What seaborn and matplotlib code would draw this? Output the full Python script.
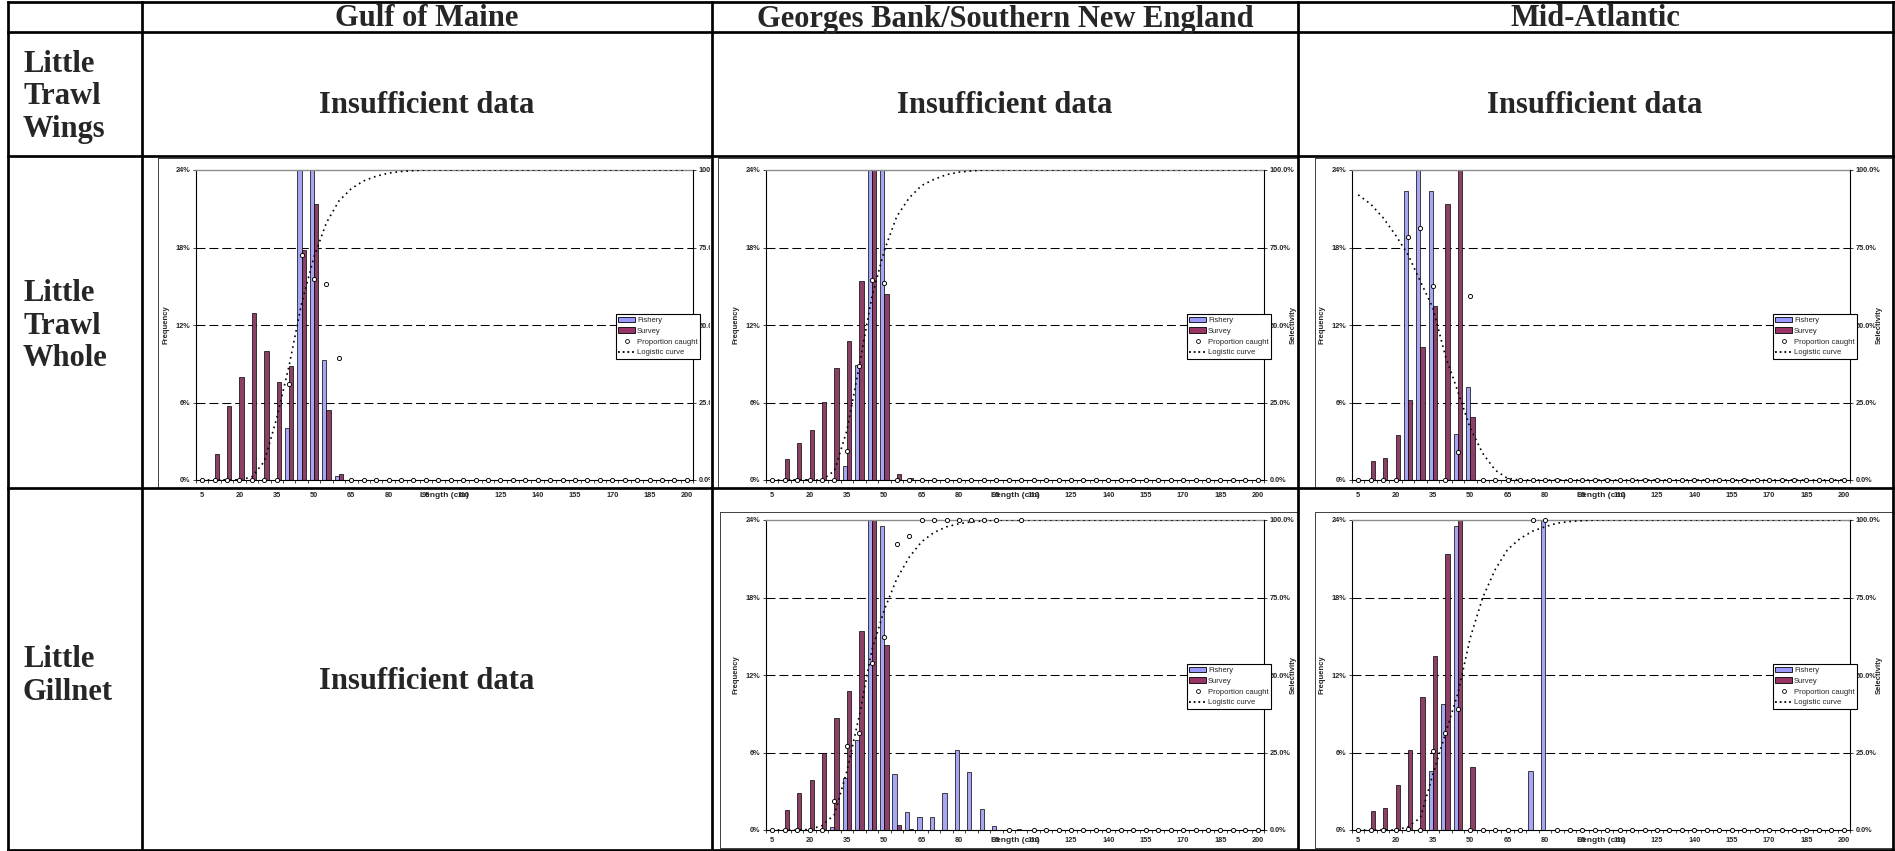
import numpy as np
import pandas as pd
import matplotlib
matplotlib.use("Agg")
import matplotlib.pyplot as plt
import seaborn as sns
from matplotlib.patches import Patch, Rectangle
from matplotlib.lines import Line2D

# Estilo geral
sns.set_style("ticks")
plt.rcParams['font.family'] = ['Liberation Sans', 'DejaVu Sans']
SERIF = ['Liberation Serif', 'DejaVu Serif']

W, H = 1895, 851

# Categorias de comprimento (cm) e rótulos do eixo x
lengths = [str(v) for v in range(5, 205, 5)]
tick_labels = lengths[::3]

col_titles = ["Gulf of Maine", "Georges Bank/Southern New England", "Mid-Atlantic"]
row_titles = ["Little\nTrawl\nWings", "Little\nTrawl\nWhole", "Little\nGillnet"]
no_data = "Insufficient data"

# Gulf of Maine - trawl whole (% frequência, % seletividade)
gom_whole_fishery = [0, 0, 0.1, 0.1, 0, 0, 0, 4.0, 43.0, 43.2, 9.3, 0.3] + [0] * 28
gom_whole_survey = [0, 2.0, 5.7, 8.0, 12.9, 10.0, 7.6, 8.8, 17.8, 21.4, 5.4, 0.5] + [0] * 28
gom_whole_prop = [0, 0, 0, 0, 0, 0, 0, 31.0, 72.7, 64.8, 63.3, 39.2] + [0] * 28
gom_whole_logit = [0, 0, 0, 0, 1, 6, 20, 37, 57, 72, 83, 90, 94, 96.5, 98, 99, 99.5, 99.8] + [100] * 22

# Georges Bank/SNE - trawl whole
gbs_whole_fishery = [0, 0, 0.1, 0.1, 0, 0, 1.1, 8.9, 45.0, 44.7, 0, 0] + [0] * 28
gbs_whole_survey = [0, 1.6, 2.9, 3.9, 6.05, 8.7, 10.8, 15.4, 35.7, 14.4, 0.45, 0.15] + [0] * 28
gbs_whole_prop = [0, 0, 0, 0, 0, 0, 9.2, 36.9, 64.4, 63.6, 0, 0] + [0] * 28
gbs_whole_logit = [0, 0, 0, 0, 0, 3, 16, 37, 59, 74, 85, 91, 95, 97, 98.5, 99.3, 99.7] + [100] * 23

# Mid-Atlantic - trawl whole
mab_whole_fishery = [0, 0, 0, 0, 22.4, 44.4, 22.4, 0, 3.6, 7.2, 0, 0] + [0] * 28
mab_whole_survey = [0, 1.47, 1.7, 3.5, 6.2, 10.3, 13.5, 21.4, 37.0, 4.9, 0, 0] + [0] * 28
mab_whole_prop = [0, 0, 0, 0, 78.4, 81.4, 62.5, 0, 8.9, 59.3, 0, 0] + [0] * 28
mab_whole_logit = [92, 89, 84.6, 79, 72.7, 64, 55.5, 40, 28.6, 16.7, 8.6, 3.2, 0.5] + [0] * 27

# Georges Bank/SNE - gillnet
gbs_gill_fishery = [0, 0, 0, 0, 0, 0.26, 4.0, 7.0, 41.9, 23.5, 4.35, 1.4, 1.0, 1.0, 2.9, 6.2,
                    4.5, 1.6, 0.3, 0, 0.1] + [0] * 19
gbs_gill_survey = [0, 1.58, 2.85, 3.84, 6.0, 8.66, 10.8, 15.4, 36.1, 14.3, 0.39, 0.1] + [0] * 28
gbs_gill_prop = [0, 0, 0, 0, 0, 9.3, 27.0, 31.4, 53.8, 62.2, 92.1, 94.8, 100, 100, 100, 100,
                 100, 100, 100, 0, 100] + [0] * 19
gbs_gill_logit = [0, 0, 0, 0.2, 1.4, 5, 19, 37, 58, 71, 81, 88, 93, 96, 97.8, 98.8, 99.4, 99.7] + [100] * 22

# Mid-Atlantic - gillnet
mab_gill_fishery = [0, 0, 0, 0, 0, 0, 4.56, 9.75, 23.5, 0, 0, 0, 0, 0, 4.56, 57.6] + [0] * 24
mab_gill_survey = [0, 1.45, 1.68, 3.5, 6.17, 10.3, 13.5, 21.4, 37.1, 4.9] + [0] * 30
mab_gill_prop = [0, 0, 0, 0, 0.3, 0, 25.4, 31.4, 38.9, 0, 0, 0, 0, 0, 100, 100] + [0] * 24
mab_gill_logit = [0, 0, 0, 0, 1, 4, 18, 31, 44, 62, 75, 84, 90.5, 94, 96.4, 97.8, 99, 99.5, 99.8] + [100] * 21

colors = {"Fishery": "#9999FF", "Survey": "#993366"}


def fig_rect(x0, y0, x1, y1):
    return [x0 / W, 1 - y1 / H, (x1 - x0) / W, (y1 - y0) / H]


def fig_line(fig, xs, ys, lw, color, z):
    fig.add_artist(Line2D([x / W for x in xs], [1 - y / H for y in ys], transform=fig.transFigure,
                          color=color, lw=lw, zorder=z, solid_capstyle="projecting"))


def white_box(fig, x0, y0, x1, y1):
    fig.add_artist(Rectangle((x0 / W, 1 - y1 / H), (x1 - x0) / W, (y1 - y0) / H,
                             transform=fig.transFigure, facecolor="white", edgecolor="none", zorder=5))


# Gráfico de barras + curva logística
def draw_chart(fig, box, fishery, survey, prop, logit, xpad):
    ax = fig.add_axes(fig_rect(*box))
    df = pd.DataFrame({
        "Length": lengths * 2,
        "Series": ["Fishery"] * 40 + ["Survey"] * 40,
        "Pct": fishery + survey,
    })
    sns.barplot(data=df, x="Length", y="Pct", hue="Series", order=lengths,
                hue_order=["Fishery", "Survey"], palette=colors, width=0.68,
                edgecolor="black", linewidth=0.5, errorbar=None, legend=False, ax=ax)
    ax.set_xlim(-0.5, 39.5)
    ax.set_ylim(0, 24)
    ax.set_xlabel("")
    ax.set_ylabel("")
    for v in [6, 12, 18]:
        ax.axhline(v, color="black", lw=0.75, ls=(0, (8.6, 3.8)), zorder=0.5)

    ax.set_xticks(range(0, 40, 3), tick_labels, fontsize=5.3, fontweight="bold")
    ax.set_xticks(np.arange(-0.5, 40, 1), minor=True)
    ax.tick_params(axis="x", which="major", length=0, pad=xpad)
    ax.tick_params(axis="x", which="minor", length=2.2, width=0.6, direction="out")
    ax.set_yticks([0, 6, 12, 18, 24], ["0%", "6%", "12%", "18%", "24%"], fontsize=5.3, fontweight="bold")
    ax.tick_params(axis="y", length=2.2, width=0.6, pad=1.6)
    ax.spines["top"].set_color("#8c8c8c")
    ax.spines["top"].set_linewidth(1.0)
    ax.spines["right"].set_visible(False)
    for s in ["left", "bottom"]:
        ax.spines[s].set_linewidth(0.8)
        ax.spines[s].set_color("black")

    ax2 = ax.twinx()
    x = np.arange(40)
    ax2.plot(x, logit, color="black", lw=1.2, ls=(0, (1, 2.3)))
    ax2.plot(x, prop, ls="none", marker="o", ms=3.0, mfc="white", mec="black", mew=0.65, clip_on=False)
    ax2.set_ylim(0, 100)
    ax2.set_yticks([0, 25, 50, 75, 100], ["0.0%", "25.0%", "50.0%", "75.0%", "100.0%"],
                   fontsize=5.3, fontweight="bold")
    ax2.tick_params(axis="y", length=2.2, width=0.6, pad=1.6)
    for s in ["top", "left", "bottom"]:
        ax2.spines[s].set_visible(False)
    ax2.spines["right"].set_linewidth(0.8)
    ax2.spines["right"].set_color("black")

    label_y = -(xpad * 1.389 + 3.5) / 310
    ax.text(0.5, label_y, "Length (cm)", transform=ax.transAxes, ha="center", va="center",
            fontsize=6, fontweight="bold")
    ax.text(-30 / 498, 0.5, "Frequency", transform=ax.transAxes, rotation=90, ha="center",
            va="center", fontsize=5.5, fontweight="bold")
    ax2.text(1 + 29 / 498, 0.5, "Selectivity", transform=ax2.transAxes, rotation=90, ha="center",
             va="center", fontsize=5.5, fontweight="bold")

    handles = [
        Patch(facecolor=colors["Fishery"], edgecolor="black", linewidth=0.6),
        Patch(facecolor=colors["Survey"], edgecolor="black", linewidth=0.6),
        Line2D([], [], ls="none", marker="o", ms=2.8, mfc="white", mec="black", mew=0.6),
        Line2D([], [], color="black", lw=1.3, ls=(0, (1, 1.6))),
    ]
    leg = ax2.legend(handles, ["Fishery", "Survey", "Proportion caught", "Logistic curve"],
                     loc="center right", bbox_to_anchor=(1.014, 0.463), fontsize=5.5,
                     frameon=True, fancybox=False, framealpha=1, edgecolor="black",
                     borderpad=0.3, labelspacing=0.45, handlelength=2.3, handletextpad=0.2,
                     borderaxespad=0)
    leg.get_frame().set_linewidth(0.8)
    return ax


fig = plt.figure(figsize=(W / 100, H / 100), dpi=100)

# Linha 2 (Trawl Whole) e linha 3 (Gillnet)
draw_chart(fig, (196, 170, 693, 480), gom_whole_fishery, gom_whole_survey, gom_whole_prop, gom_whole_logit, 8.8)
draw_chart(fig, (766, 170, 1264, 480), gbs_whole_fishery, gbs_whole_survey, gbs_whole_prop, gbs_whole_logit, 8.8)
draw_chart(fig, (1352, 170, 1850, 480), mab_whole_fishery, mab_whole_survey, mab_whole_prop, mab_whole_logit, 8.8)
draw_chart(fig, (766, 520, 1264, 830), gbs_gill_fishery, gbs_gill_survey, gbs_gill_prop, gbs_gill_logit, 5.2)
draw_chart(fig, (1352, 520, 1850, 830), mab_gill_fishery, mab_gill_survey, mab_gill_prop, mab_gill_logit, 5.2)

ROW_LINES = [2, 31.5, 156, 488, 849.5]
COL_LINES = [8, 142, 712, 1298, 1892.5]

# Recortes das imagens dos gráficos nas células
white_box(fig, 710, 157, 731, 487)
white_box(fig, 1298, 157, 1312, 488)
white_box(fig, 1298, 488, 1312, 851)

# Molduras dos gráficos
frame_c = "#404040"
fig_line(fig, [158, 710], [158, 158], 0.7, frame_c, 6)
fig_line(fig, [158, 158], [158, 488], 0.7, frame_c, 6)
fig_line(fig, [718, 1298], [158, 158], 0.7, frame_c, 6)
fig_line(fig, [718, 718], [158, 488], 0.7, frame_c, 6)
fig_line(fig, [1315, 1893], [158, 158], 0.7, frame_c, 6)
fig_line(fig, [1315, 1315], [158, 488], 0.7, frame_c, 6)
fig_line(fig, [720, 1298], [512, 512], 0.7, frame_c, 6)
fig_line(fig, [720, 720], [512, 848], 0.7, frame_c, 6)
fig_line(fig, [720, 1298], [848, 848], 0.7, frame_c, 6)
fig_line(fig, [1315, 1893], [512, 512], 0.7, frame_c, 6)
fig_line(fig, [1315, 1315], [512, 848], 0.7, frame_c, 6)
fig_line(fig, [1315, 1893], [848, 848], 0.7, frame_c, 6)

# Linhas da tabela
for y in ROW_LINES:
    fig_line(fig, [COL_LINES[0], COL_LINES[-1]], [y, y], 1.95, "black", 7)
for xv in COL_LINES:
    fig_line(fig, [xv, xv], [ROW_LINES[0], ROW_LINES[-1]], 1.95, "black", 7)

# Textos da tabela
col_x = [427, 1005, 1595]
for cx, t in zip(col_x, col_titles):
    fig.text(cx / W, 1 - 26.5 / H, t, ha="center", va="baseline", fontsize=22,
             fontweight="bold", family=SERIF, zorder=8)
for cy, t in zip([97, 326, 676], row_titles):
    fig.text(23 / W, 1 - cy / H, t, ha="left", va="center", fontsize=22, fontweight="bold",
             family=SERIF, linespacing=1.15, zorder=8)
for cx in col_x:
    fig.text(cx / W, 1 - 113 / H, no_data, ha="center", va="baseline", fontsize=22,
             fontweight="bold", family=SERIF, zorder=8)
fig.text(col_x[0] / W, 1 - 689 / H, no_data, ha="center", va="baseline", fontsize=22,
         fontweight="bold", family=SERIF, zorder=8)

fig.savefig("out.png", dpi=100)
